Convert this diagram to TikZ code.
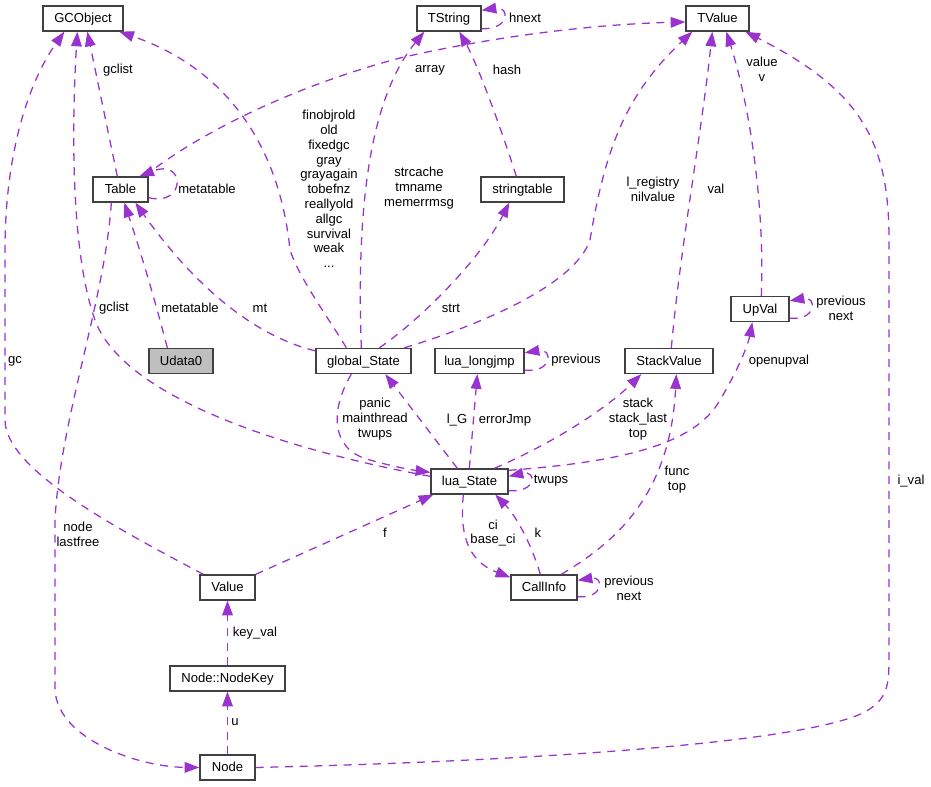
\documentclass[tikz,border=0pt]{standalone}
\usepackage{fontspec}
\setmainfont{Liberation Sans}
\usepackage{tikz}
\usetikzlibrary{arrows.meta,calc}
\definecolor{collpurple}{RGB}{154,50,205}

\begin{document}
\begin{tikzpicture}[
  x=0.75pt, y=-0.75pt,
  font=\fontsize{9.8}{11.1}\selectfont,
  cls/.style={draw=black!75, line width=1pt, fill=white, minimum height=18.75pt, minimum width=#1*0.75pt, inner sep=0pt, text height=7pt, text depth=0.5pt},
  coll/.style={draw=collpurple, line width=0.95pt, dash pattern=on 6pt off 5pt, -{Triangle[length=11pt,width=8pt]}},
  lbl/.style={align=center, inner sep=0pt},
]
\useasboundingbox[fill=white] (0,0) rectangle (931,787);

% classes
\node[cls=80] (gco) at (83,18.5) {GCObject};
\node[cls=64] (tstr) at (449,18.5) {TString};
\node[cls=63] (tval) at (717.5,18.5) {TValue};
\node[cls=55] (tbl) at (120.5,189.5) {Table};
\node[cls=83] (strt) at (522.5,189.5) {stringtable};
\node[cls=58] (upv) at (760,309) {UpVal};
\node[cls=64, fill=black!25] (udata) at (181,361) {Udata0};
\node[cls=95] (gst) at (363.5,361) {global\_State};
\node[cls=89] (ljmp) at (479.5,361) {lua\_longjmp};
\node[cls=88] (stkv) at (669,361) {StackValue};
\node[cls=77] (lst) at (469.5,481.5) {lua\_State};
\node[cls=55] (val) at (227.5,587.5) {Value};
\node[cls=66] (cinfo) at (544,587.5) {CallInfo};
\node[cls=115] (nkey) at (227.5,678.5) {Node::NodeKey};
\node[cls=55] (node) at (227.5,767.5) {Node};

% into GCObject
\draw[coll] ($(tbl.north west)+(25,0)$) -- ($(gco.south west)+(45,0)$);
\draw[coll] ($(val.north west)+(4,0)$) .. controls (120,530) and (5,470) .. (5,420) -- (5,250) .. controls (5,150) and (30,80) .. ($(gco.south west)+(22,0)$);
\draw[coll] ($(lst.north west)+(0,8)$) .. controls (260,445) and (120,390) .. (95,320) .. controls (70,250) and (72,120) .. ($(gco.south west)+(35,0)$);
\draw[coll] ($(gst.north west)+(31,0)$) .. controls (330,320) and (300,280) .. (290,250) .. controls (280,150) and (230,70) .. ($(gco.south west)+(77,0)$);
\node[lbl] (l-tblgc) at (118,70) {gclist};
\node[lbl] (l-gc) at (15,361) {gc};
\node[lbl] (l-lstgc) at (114,308) {gclist};
\node[lbl] (l-gstgc) at (329,189) {finobjrold\\old\\fixedgc\\gray\\grayagain\\tobefnz\\reallyold\\allgc\\survival\\weak\\...};

% into TString
\draw[coll] ($(gst.north west)+(46,0)$) .. controls (358,250) and (360,110) .. ($(tstr.south west)+(8,0)$);
\draw[coll] ($(strt.north west)+(36,0)$) .. controls (495,110) and (475,60) .. ($(tstr.south west)+(43,0)$);
\draw[coll] ($(tstr.south east)+(0,-3)$) .. controls (510,30) and (510,6) .. ($(tstr.north east)+(0,5)$);
\node[lbl] (l-strc) at (419,188) {strcache\\tmname\\memerrmsg};
\node[lbl] (l-hash) at (507,70) {hash};
\node[lbl] (l-hnext) at (525,18) {hnext};

% into TValue
\draw[coll] ($(tbl.north west)+(52,0)$) .. controls (190,140) and (280,90) .. (400,58) .. controls (500,35) and (600,24) .. ($(tval.west)+(0,3.5)$);
\draw[coll] ($(gst.north west)+(89,0)$) .. controls (480,325) and (575,285) .. (590,240) .. controls (605,150) and (625,95) .. ($(tval.south west)+(7,0)$);
\draw[coll] ($(stkv.north west)+(47,0)$) .. controls (680,250) and (702,130) .. ($(tval.south west)+(27,0)$);
\draw[coll] ($(upv.north west)+(31,0)$) .. controls (765,200) and (748,100) .. ($(tval.south west)+(41,0)$);
\draw[coll] (node.east) .. controls (500,762) and (800,745) .. (865,712) .. controls (885,700) and (889,690) .. (889,660) -- (889,240) .. controls (889,140) and (860,90) .. ($(tval.south west)+(60,0)$);
\node[lbl] (l-array) at (430,70) {array};
\node[lbl] (l-lreg) at (653,189) {l\_registry\\nilvalue};
\node[lbl] (l-val) at (716,189) {val};
\node[lbl] (l-value) at (762,69) {value\\v};
\node[lbl] (l-ival) at (911,481) {i\_val};

% into Table
\draw[coll] ($(tbl.south east)+(0,-5)$) .. controls (186,207) and (186,158) .. ($(tbl.north west)+(47,0)$);
\draw[coll] ($(udata.north west)+(19,0)$) .. controls (155,300) and (140,250) .. ($(tbl.south west)+(32,0)$);
\draw[coll] ($(gst.north west)+(0,3)$) .. controls (250,335) and (190,280) .. ($(tbl.south west)+(43,0)$);
\node[lbl] (l-tblmeta) at (207,189) {metatable};
\node[lbl] (l-udmeta) at (190,308) {metatable};
\node[lbl] (l-mt) at (260,308) {mt};

% into stringtable
\draw[coll] ($(gst.north west)+(64,0)$) .. controls (420,320) and (480,260) .. ($(strt.south west)+(29,0)$);
\node[lbl] (l-strt) at (451,308) {strt};

% around lua_State
\draw[coll] ($(gst.south west)+(36,0)$) .. controls (330,410) and (330,450) .. (370,460) .. controls (395,467) and (412,470) .. ($(lst.north west)+(0,4)$);
\draw[coll] ($(lst.north west)+(27,0)$) -- ($(gst.south west)+(70,0)$);
\draw[coll] ($(lst.north west)+(39,0)$) -- ($(ljmp.south west)+(43,0)$);
\draw[coll] ($(ljmp.south east)+(0,-4)$) .. controls (553,373) and (553,348) .. ($(ljmp.north east)+(0,5)$);
\draw[coll] ($(lst.north west)+(64,0)$) .. controls (560,440) and (610,405) .. ($(stkv.south west)+(17,0)$);
\draw[coll] ($(lst.south east)+(0,-4)$) .. controls (537,493) and (537,470) .. ($(lst.north east)+(0,8)$);
\draw[coll] ($(lst.north east)+(0,2)$) .. controls (620,462) and (695,445) .. (720,400) .. controls (738,370) and (748,345) .. ($(upv.south west)+(22,0)$);
\draw[coll] ($(upv.south east)+(0,-4)$) .. controls (817,321) and (817,296) .. ($(upv.north east)+(0,5)$);
\node[lbl] (l-panic) at (375,419) {panic\\mainthread\\twups};
\node[lbl] (l-lg) at (457,420) {l\_G};
\node[lbl] (l-errj) at (505,420) {errorJmp};
\node[lbl] (l-prevj) at (576,360) {previous};
\node[lbl] (l-stack) at (638,419) {stack\\stack\_last\\top};
\node[lbl] (l-twups) at (551,481) {twups};
\node[lbl] (l-openuv) at (779,361) {openupval};
\node[lbl] (l-prevuv) at (841,308) {previous\\next};

% CallInfo and Value
\draw[coll] ($(lst.south west)+(33,0)$) .. controls (460,530) and (465,560) .. ($(cinfo.north west)+(0,3)$);
\draw[coll] ($(cinfo.north west)+(30,0)$) .. controls (530,540) and (515,515) .. ($(lst.south west)+(65,0)$);
\draw[coll] ($(cinfo.north west)+(51,0)$) .. controls (610,545) and (670,500) .. ($(stkv.south west)+(52,0)$);
\draw[coll] ($(cinfo.south east)+(0,-4)$) .. controls (604,599) and (604,576) .. ($(cinfo.north east)+(0,6)$);
\draw[coll] (val.north east) -- ($(lst.south west)+(3,0)$);
\node[lbl] (l-ci) at (493,533) {ci\\base\_ci};
\node[lbl] (l-k) at (538,533) {k};
\node[lbl] (l-func) at (677,480) {func\\top};
\node[lbl] (l-prevci) at (629,588) {previous\\next};
\node[lbl] (l-f) at (385,533) {f};

% Node chain
\draw[coll] ($(tbl.south west)+(19,0)$) .. controls (105,300) and (60,420) .. (55,520) -- (55,690) .. controls (58,740) and (140,767) .. (node.west);
\draw[coll] (nkey.north) -- (val.south);
\draw[coll] (node.north) -- (nkey.south);
\node[lbl] (l-nodelf) at (78,534) {node\\lastfree};
\node[lbl] (l-keyval) at (255,633) {key\_val};
\node[lbl] (l-u) at (235,722) {u};
\end{tikzpicture}
\end{document}
